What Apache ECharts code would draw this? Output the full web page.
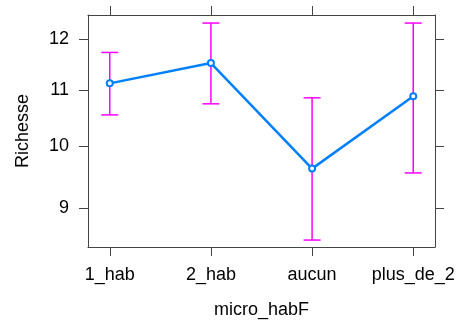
<!DOCTYPE html>
<html>
<head>
<meta charset="utf-8">
<script src="https://cdn.jsdelivr.net/npm/echarts@6/dist/echarts.min.js"></script>
<style>
  html, body { margin: 0; padding: 0; background: #fff; }
  #chart { width: 459px; height: 321px; }
</style>
</head>
<body>
<div id="chart"></div>
<script>
// categories and effect estimates
var categories = ["1_hab", "2_hab", "aucun", "plus_de_2"];
var richesse = [11.13, 11.52, 9.63, 10.89];
var lower = [10.55, 10.75, 8.53, 9.56];
var upper = [11.73, 12.33, 10.86, 12.33];
var yTicks = [9, 10, 11, 12];
var xTicks = [0, 1, 2, 3];

var frame = "#444";
var font = "Liberation Sans, Arial, sans-serif";

var chart = echarts.init(document.getElementById("chart"));

var lineData = richesse.map(function (v, i) { return [i, v]; });
var barData = richesse.map(function (v, i) { return [i, lower[i], upper[i]]; });

function xAxisCfg(pos, showLabel) {
  return {
    type: "value",
    position: pos,
    min: -0.215,
    max: 3.215,
    name: pos === "bottom" ? "micro_habF" : "",
    nameLocation: "middle",
    nameGap: 54,
    nameTextStyle: { fontSize: 18, color: "#000", fontFamily: font },
    axisLine: { show: true, onZero: false, lineStyle: { color: frame, width: 1 } },
    axisTick: { show: true, length: 9, customValues: xTicks, lineStyle: { color: frame, width: 1 } },
    axisLabel: {
      show: showLabel,
      customValues: xTicks,
      margin: 19,
      fontSize: 18,
      color: "#000",
      fontFamily: font,
      formatter: function (v) { return categories[v]; }
    },
    splitLine: { show: false }
  };
}

function yAxisCfg(pos, showLabel) {
  return {
    type: "log",
    logBase: 10,
    position: pos,
    min: 8.43,
    max: 12.5,
    name: pos === "left" ? "Richesse" : "",
    nameLocation: "middle",
    nameGap: 56,
    nameTextStyle: { fontSize: 18, color: "#000", fontFamily: font },
    axisLine: { show: true, onZero: false, lineStyle: { color: frame, width: 1 } },
    axisTick: { show: true, length: 9, customValues: yTicks, lineStyle: { color: frame, width: 1 } },
    axisLabel: {
      show: showLabel,
      customValues: yTicks,
      margin: 19,
      fontSize: 18,
      color: "#000",
      fontFamily: font
    },
    splitLine: { show: false }
  };
}

chart.setOption({
  animation: false,
  grid: { left: 88, right: 24, top: 15, bottom: 74, outerBoundsMode: "none", containLabel: false },
  xAxis: [xAxisCfg("bottom", true), xAxisCfg("top", false)],
  yAxis: [yAxisCfg("left", true), yAxisCfg("right", false)],
  series: [
    {
      type: "custom",
      data: barData,
      encode: { x: 0, y: [1, 2] },
      renderItem: function (params, api) {
        var x = api.value(0);
        var lo = api.coord([x, api.value(1)]);
        var hi = api.coord([x, api.value(2)]);
        var w = 8.5;
        var st = { stroke: "#ff00ff", lineWidth: 1.5 };
        return {
          type: "group",
          children: [
            { type: "line", shape: { x1: lo[0], y1: lo[1], x2: hi[0], y2: hi[1] }, style: st },
            { type: "line", shape: { x1: hi[0] - w, y1: hi[1], x2: hi[0] + w, y2: hi[1] }, style: st },
            { type: "line", shape: { x1: lo[0] - w, y1: lo[1], x2: lo[0] + w, y2: lo[1] }, style: st }
          ]
        };
      },
      z: 1
    },
    {
      type: "line",
      data: lineData,
      symbol: "emptyCircle",
      symbolSize: 6,
      lineStyle: { color: "#0080ff", width: 2.5 },
      itemStyle: { color: "#0080ff", borderWidth: 2 },
      z: 2
    }
  ]
});
</script>
</body>
</html>
